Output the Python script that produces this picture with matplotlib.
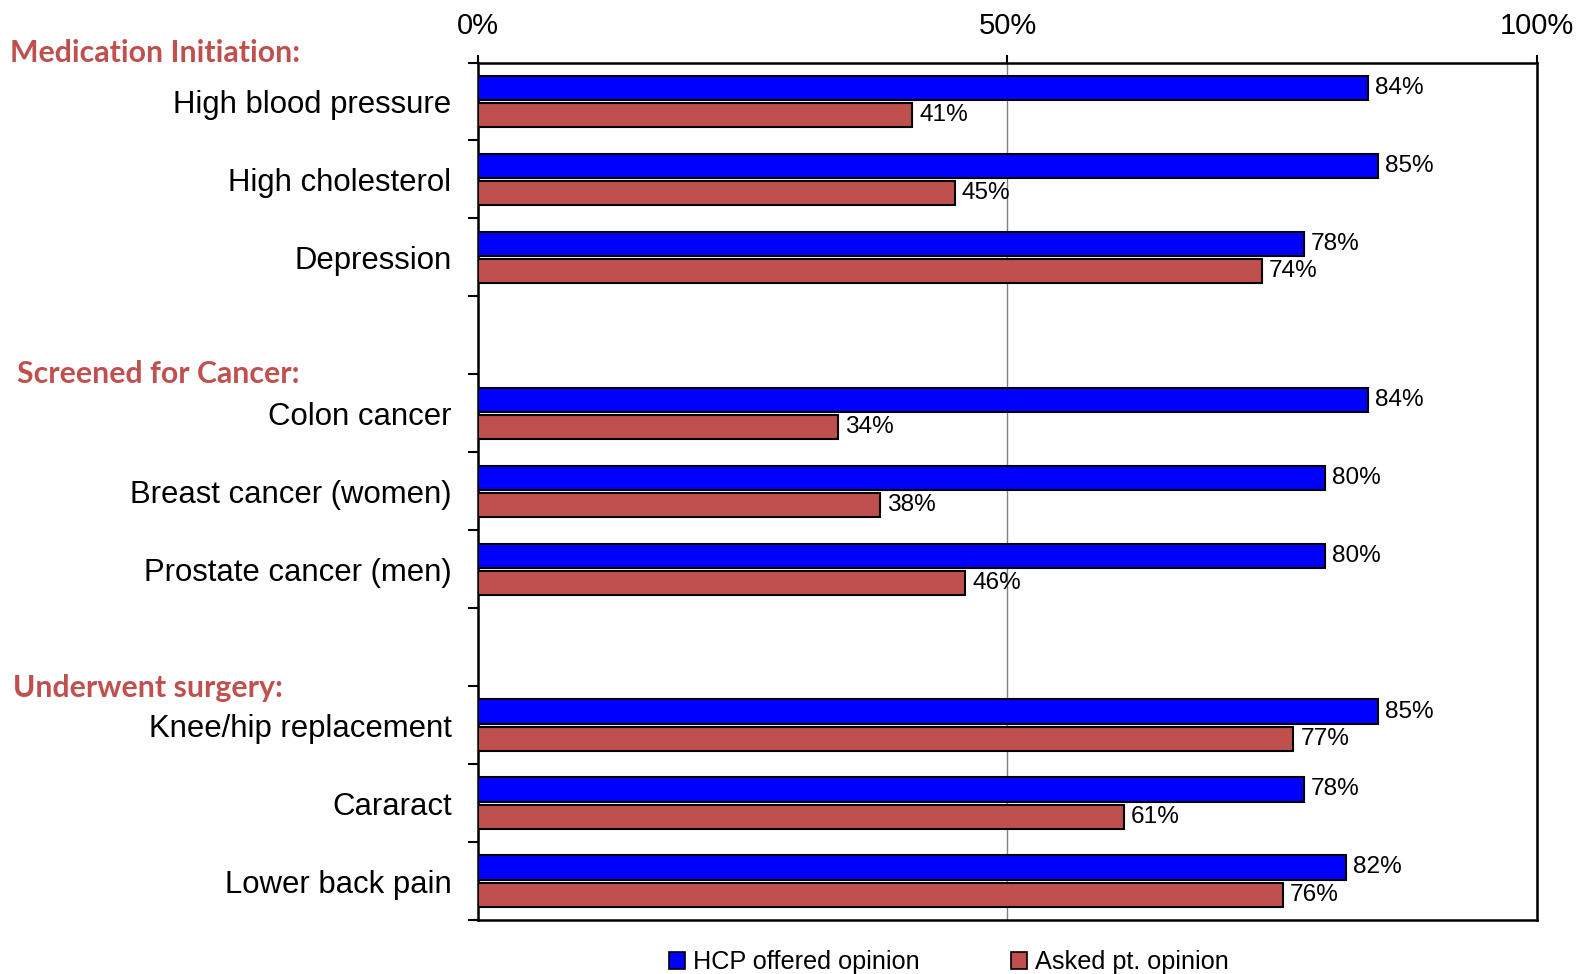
import matplotlib

matplotlib.use("Agg")
import matplotlib.pyplot as plt
from matplotlib.patches import Patch
from matplotlib.transforms import blended_transform_factory

plt.rcParams["font.family"] = ["Liberation Sans", "DejaVu Sans"]

# slot layout: three groups of three items, with an empty slot between groups
categories = ["High blood pressure", "High cholesterol", "Depression", None,
              "Colon cancer", "Breast cancer (women)", "Prostate cancer (men)", None,
              "Knee/hip replacement", "Cararact", "Lower back pain"]
hcp_offered = [84, 85, 78, None, 84, 80, 80, None, 85, 78, 82]
asked_pt = [41, 45, 74, None, 34, 38, 46, None, 77, 61, 76]
group_titles = ["Medication Initiation:", "Screened for Cancer:", "Underwent surgery:"]
group_title_y = [-0.62, 3.49, 7.52]
group_title_x = [0.0064, 0.0108, 0.0083]
x_ticks = [0, 50, 100]

BLUE = "#0000FF"
RED = "#C0504D"

fig = plt.figure(figsize=(15.81, 9.74), dpi=100)
ax = fig.add_axes([0.3023, 0.0554, 0.6699, 0.8804])

pos = [i for i, c in enumerate(categories) if c is not None]
h = 0.31
ax.barh([i - 0.175 for i in pos], [hcp_offered[i] for i in pos], height=h,
        color=BLUE, edgecolor="black", lw=1.5, zorder=3)
ax.barh([i + 0.175 for i in pos], [asked_pt[i] for i in pos], height=h,
        color=RED, edgecolor="black", lw=1.5, zorder=3)

for i in pos:
    for v, off in ((hcp_offered[i], -0.175), (asked_pt[i], 0.175)):
        ax.annotate(f"{v}%", (v, i + off), xytext=(5, 0), textcoords="offset points",
                    va="center", ha="left", fontsize=17.6, zorder=4)

ax.set_xlim(0, 100)
ax.set_ylim(len(categories) - 0.5, -0.5)
ax.xaxis.tick_top()
ax.set_xticks(x_ticks)
ax.set_xticklabels([f"{t}%" for t in x_ticks], fontsize=21)
ax.tick_params(axis="x", length=6, width=1.5, pad=10.5, direction="out")
ax.xaxis.grid(True, color="#808080", lw=1, zorder=0)

ax.set_yticks(pos)
ax.set_yticklabels([categories[i] for i in pos], fontsize=22.4)
ax.tick_params(axis="y", which="major", length=0, pad=19)
ax.set_yticks([b - 0.5 for b in range(len(categories) + 1)], minor=True)
ax.tick_params(axis="y", which="minor", length=7, width=1.5, direction="out")

for s in ax.spines.values():
    s.set_linewidth(1.8)

tr = blended_transform_factory(fig.transFigure, ax.transData)
for t, x, y in zip(group_titles, group_title_x, group_title_y):
    ax.text(x, y, t, transform=tr, ha="left", va="center", color=RED,
            fontsize=21.8, fontweight="bold", family=["Lato", "DejaVu Sans"])

handles = [Patch(facecolor=BLUE, edgecolor="black", lw=1.2),
           Patch(facecolor=RED, edgecolor="black", lw=1.2)]
fig.legend(handles, ["HCP offered opinion", "Asked pt. opinion"], ncol=2,
           loc="center", bbox_to_anchor=(0.600, 0.012), frameon=False, fontsize=18.2,
           handlelength=0.65, handleheight=0.65, handletextpad=0.3, columnspacing=3.6)

fig.savefig("out.png", dpi=100)
